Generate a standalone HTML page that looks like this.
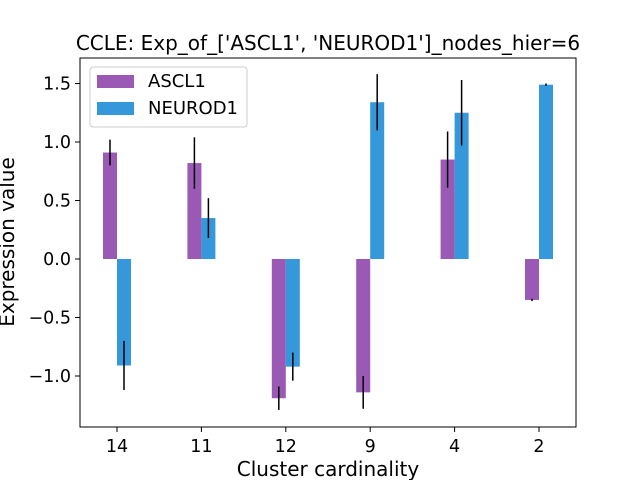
<!DOCTYPE html>
<html><head><meta charset="utf-8"><style>
body{margin:0;background:#fff}
svg text{font-family:"DejaVu Sans","Liberation Sans",sans-serif}
</style></head><body>
<svg id="c" width="640" height="480" xmlns="http://www.w3.org/2000/svg"></svg>
<script>
const categories=["14","11","12","9","4","2"];
const ascl1=[0.91,0.82,-1.19,-1.14,0.85,-0.35];
const ascl1Err=[0.11,0.22,0.10,0.14,0.24,0.01];
const neurod1=[-0.91,0.35,-0.92,1.34,1.25,1.49];
const neurod1Err=[0.21,0.17,0.12,0.24,0.28,0.01];
const yTicks=[-1.0,-0.5,0.0,0.5,1.0,1.5];
const yLabels=["\u22121.0","\u22120.5","0.0","0.5","1.0","1.5"];

const svg=document.getElementById('c');
const NS="http://www.w3.org/2000/svg";
const L=80,R=576,T=58,B=427;
const y=v=>259-v*117;
const x=i=>117+i*84.4;
const bw=14;
function el(t,a,p){const e=document.createElementNS(NS,t);for(const k in a)e.setAttribute(k,a[k]);(p||svg).appendChild(e);return e;}

const title=el('text',{x:328,y:50,'text-anchor':'middle','font-size':20,fill:'#000'});


title.textContent="CCLE: Exp_of_['ASCL1', 'NEUROD1']_nodes_hier=6";

function series(vals,errs,color,off,name){
  vals.forEach((v,i)=>{
    const x0=x(i)+off;
    const r=el('rect',{x:x0,y:Math.min(y(v),y(0)),width:bw,height:Math.abs(y(v)-y(0)),fill:color});
    
    
    const l=el('line',{x1:x0+bw/2,x2:x0+bw/2,y1:y(v-errs[i]),y2:y(v+errs[i]),stroke:'#000','stroke-width':1.5});
    
    
  });
}
series(ascl1,ascl1Err,'#9b59b6',-bw,'ascl1');
series(neurod1,neurod1Err,'#3498db',0,'neurod1');

const frame=el('rect',{x:L,y:T,width:R-L,height:B-T,fill:'none',stroke:'#000','stroke-width':1});



yTicks.forEach((t,i)=>{
  el('line',{x1:L-5,x2:L,y1:y(t),y2:y(t),stroke:'#000'});
  const tx=el('text',{x:L-9,y:y(t)+6,'text-anchor':'end','font-size':17.5});
  
  
  tx.textContent=yLabels[i];
});
categories.forEach((c,i)=>{
  el('line',{x1:x(i),x2:x(i),y1:B,y2:B+5,stroke:'#000'});
  const tx=el('text',{x:x(i),y:B+25,'text-anchor':'middle','font-size':17.5});
  
  
  tx.textContent=c;
});
const xt=el('text',{x:328,y:476,'text-anchor':'middle','font-size':20});


xt.textContent="Cluster cardinality";
const yt=el('text',{x:0,y:0,'text-anchor':'middle','font-size':20,transform:'translate(14,242) rotate(-90)'});


yt.textContent="Expression value";

const lg=el('g',{});


el('rect',{x:90,y:67,width:157,height:60,rx:3,fill:'#fff',stroke:'#ccc'},lg);
[['ASCL1','#9b59b6'],['NEUROD1','#3498db']].forEach((s,i)=>{
  const r=el('rect',{x:97,y:75+i*27,width:37,height:13,fill:s[1]},lg);
  
  
  const t=el('text',{x:148,y:87+i*27,'font-size':18},lg);
  
  
  t.textContent=s[0];
});
</script>
</body></html>
